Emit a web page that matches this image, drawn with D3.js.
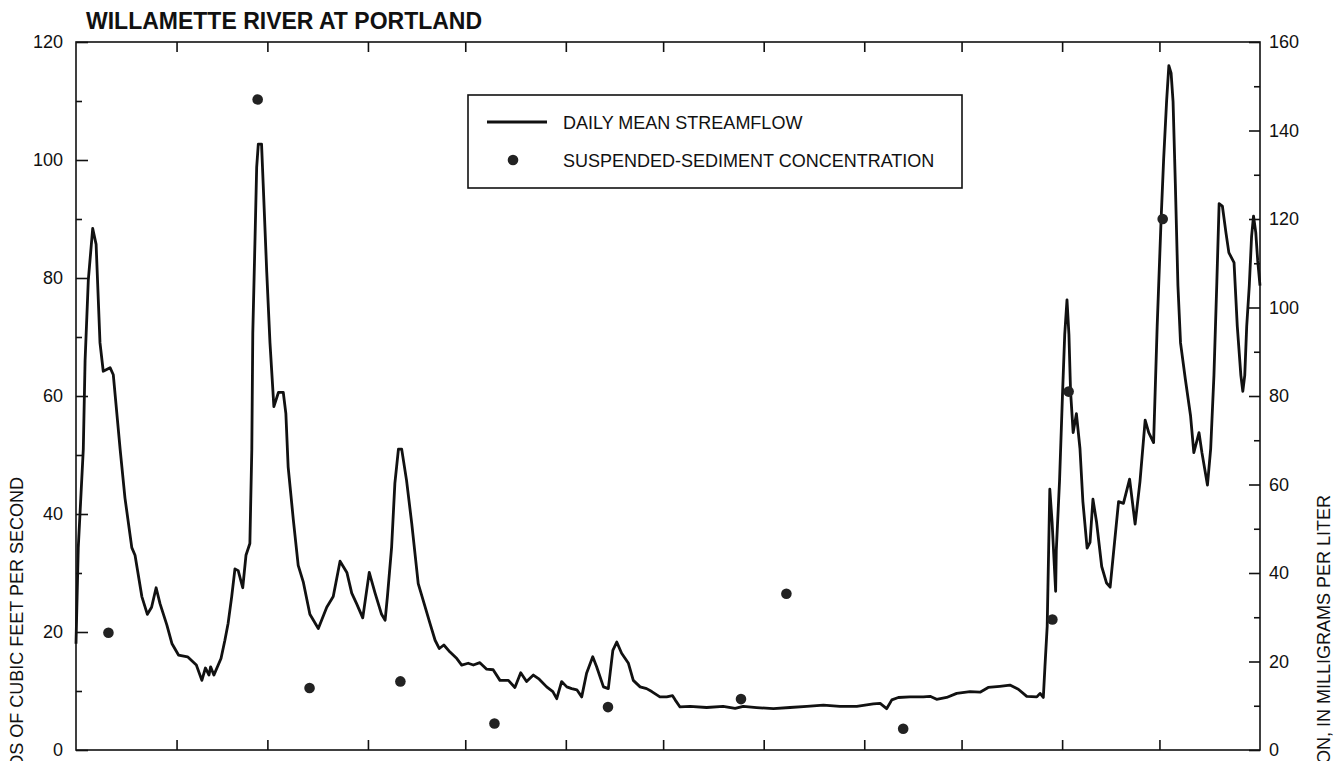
<!DOCTYPE html>
<html>
<head>
<meta charset="utf-8">
<script src="https://cdn.jsdelivr.net/npm/d3@7"></script>
<style>
  html, body { margin: 0; padding: 0; background: #fff; }
  svg { display: block; }
  text { font-family: "Liberation Sans", Arial, Helvetica, sans-serif; fill: #111; }
</style>
</head>
<body>
<svg id="chart" width="1342" height="761"></svg>
<script>
// ---------------- DATA ----------------
const chartTitle = "WILLAMETTE RIVER AT PORTLAND";
const leftAxisTitle = "THOUSANDS OF CUBIC FEET PER SECOND";
const rightAxisTitle = "SUSPENDED-SEDIMENT CONCENTRATION, IN MILLIGRAMS PER LITER";
const legendLabels = ["DAILY MEAN STREAMFLOW", "SUSPENDED-SEDIMENT CONCENTRATION"];

// day of year (0 = Jan 1) and daily mean streamflow, thousands of ft3/s
const flowDay = [0,0.7,2.25,2.8,3.8,5.15,6.2,7.4,8.4,10.5,11.5,13.6,15.1,17.2,18.2,20.3,22.0,23.3,24.7,25.9,28.0,29.6,31.6,34.4,37.1,38.8,39.9,41.0,41.5,42.5,44.7,45.9,46.9,48.0,49.0,50.0,51.4,52.4,53.6,54.2,54.5,55.2,55.7,56.2,57.2,57.7,58.8,59.8,61.0,62.4,63.9,64.7,65.4,67.0,68.5,70.1,72.1,74.7,77.3,79.3,81.4,83.5,85.0,86.5,88.4,90.4,92.2,94.2,95.3,96.0,97.3,98.3,99.4,100.4,101.9,103.5,105.5,107.6,109.1,110.7,112.0,113.4,115.3,117.4,118.9,120.9,122.5,124.5,126.6,128.6,130.7,133.3,135.3,137.1,138.9,141.0,142.8,145.1,147.0,148.2,149.7,151.3,152.8,154.4,155.9,157.4,159.3,160.5,162.6,164.1,165.5,166.7,168.2,170.3,171.8,173.9,175.9,177.5,180.0,182.1,183.9,184.7,186.2,189.3,194.4,199.5,203.2,205.7,209.8,215.0,220.1,225.3,230.4,235.5,240.7,245.8,247.9,249.9,251.5,253.5,257.1,261.2,263.3,265.3,268.4,271.5,275.6,278.7,281.2,284.8,287.9,290.5,293.1,296.2,297.2,298.2,298.7,299.4,300.2,300.9,302.0,302.2,303.2,304.1,304.8,305.5,306.1,306.6,307.4,308.4,309.5,310.4,311.7,312.6,313.5,314.6,316.2,317.7,318.8,319.8,321.4,322.9,324.8,326.5,328.0,329.6,330.7,332.2,333.3,334.5,335.3,336.2,336.9,337.6,338.2,338.9,339.7,340.5,342.0,343.6,344.6,346.2,347.1,348.8,349.8,350.8,351.7,352.4,353.4,354.5,355.4,357.0,358.0,359.1,359.7,360.3,360.9,361.7,362.4,363.0,363.7,364.3,365];
const flowValue = [18,34.3,51,66,79.7,88.4,85.7,69,64.2,64.8,63.6,51,42.7,34.3,33,26,23,24.2,27.5,24.8,21.2,18,16.1,15.8,14.4,11.8,13.9,12.7,14.1,12.7,15.5,18.6,21.5,26,30.7,30.4,27.5,33,35,51,70.7,86.9,98.8,102.7,102.7,96,81,69,58.2,60.6,60.6,57,48,39,31.3,28.4,23,20.6,24.2,26,32,30.1,26.6,24.8,22.4,30.1,26.6,23,22,26,34.4,45.2,51,51,45.7,38.4,28.2,24.3,21.5,18.6,17.2,17.8,16.6,15.5,14.4,14.7,14.4,14.8,13.7,13.6,11.8,11.8,10.6,13.1,11.6,12.7,12,10.7,9.9,8.7,11.6,10.7,10.4,10.2,9,13,15.8,14.1,10.7,10.4,16.9,18.3,16.4,14.7,11.8,10.7,10.4,9.9,9,9,9.2,8.5,7.3,7.4,7.2,7.4,7.05,7.4,7.2,7.0,7.2,7.4,7.6,7.4,7.4,7.8,7.9,7.0,8.5,8.9,9.0,9.0,9.1,8.6,8.9,9.6,9.9,9.8,10.6,10.8,11,10.3,9.1,9.0,9.6,8.9,14.1,21,44.2,38.7,26.9,33.8,45.6,60,70.4,76.3,70.4,60.8,53.8,57,51.1,42.1,34.2,35.2,42.5,38.7,31.1,28.3,27.6,33.2,42.1,41.8,45.9,38.3,45.5,55.9,53.8,52.1,71.8,89.8,100.2,109.9,116,114.7,109.9,96,78.7,69,62.8,56.6,50.4,53.8,50.4,44.9,51.1,63.5,79.4,92.6,92.2,87.7,84.3,82.6,71.8,63.5,60.8,63.5,71.8,78.7,87,90.5,87.7,82.9,78.7];

// suspended-sediment samples: day of year and concentration, mg/L
const sedimentDay = [10, 56, 72, 100, 129, 164, 205, 219, 255, 301, 306, 335];
const sedimentConc = [26.5, 147, 14, 15.5, 6, 9.7, 11.5, 35.3, 4.8, 29.5, 81, 120];

// axis ticks
const leftTicks = [0, 20, 40, 60, 80, 100, 120];
const leftMinorTicks = [10, 30, 50, 70, 90, 110];
const rightTicks = [0, 20, 40, 60, 80, 100, 120, 140, 160];
const rightMinorTicks = [10, 30, 50, 70, 90, 110, 130, 150];

// ---------------- CHART ----------------
const svg = d3.select("#chart");
const W = 1342, H = 761;
const m = { left: 76, right: 1260, top: 42, bottom: 750 };

const yearStart = new Date(2001, 0, 1), yearEnd = new Date(2002, 0, 1);
const monthStartDays = d3.timeMonth.range(yearStart, yearEnd)
  .map(d => d3.timeDay.count(yearStart, d)).slice(1);

const x = d3.scaleLinear().domain([0, 365]).range([m.left, m.right]);
const yL = d3.scaleLinear().domain([0, 120]).range([m.bottom, m.top]);
const yR = d3.scaleLinear().domain([0, 160]).range([m.bottom, m.top]);

svg.append("rect").attr("width", W).attr("height", H).attr("fill", "#fff");

// frame
svg.append("rect")
  .attr("x", m.left).attr("y", m.top)
  .attr("width", m.right - m.left).attr("height", m.bottom - m.top)
  .attr("fill", "none").attr("stroke", "#111").attr("stroke-width", 1.6);

function styleAxis(g) {
  g.select(".domain").remove();
  g.selectAll(".tick line").attr("stroke", "#111").attr("stroke-width", 1.6);
  g.selectAll(".tick text").style("font-size", "18px").attr("fill", "#111");
}

// left axis (major + minor), inward ticks
svg.append("g").attr("transform", `translate(${m.left},0)`)
  .call(d3.axisLeft(yL).tickValues(leftTicks).tickSize(-12).tickPadding(13).tickFormat(d3.format("d")))
  .call(styleAxis);
svg.append("g").attr("transform", `translate(${m.left},0)`)
  .call(d3.axisLeft(yL).tickValues(leftMinorTicks).tickSize(-6).tickFormat(""))
  .call(styleAxis);

// right axis
svg.append("g").attr("transform", `translate(${m.right},0)`)
  .call(d3.axisRight(yR).tickValues(rightTicks).tickSize(-11).tickPadding(9).tickFormat(d3.format("d")))
  .call(styleAxis);
svg.append("g").attr("transform", `translate(${m.right},0)`)
  .call(d3.axisRight(yR).tickValues(rightMinorTicks).tickSize(-6).tickFormat(""))
  .call(styleAxis);

// bottom & top month ticks
svg.append("g").attr("transform", `translate(0,${m.bottom})`)
  .call(d3.axisBottom(x).tickValues(monthStartDays).tickSize(-10).tickFormat(""))
  .call(styleAxis);
svg.append("g").attr("transform", `translate(0,${m.top})`)
  .call(d3.axisTop(x).tickValues(monthStartDays).tickSize(-10).tickFormat(""))
  .call(styleAxis);

// streamflow line
const flow = flowDay.map((d, i) => [d, flowValue[i]]);
svg.append("path")
  .datum(flow)
  .attr("fill", "none")
  .attr("stroke", "#111")
  .attr("stroke-width", 2.8)
  .attr("stroke-linejoin", "round")
  .attr("d", d3.line().x(d => x(d[0])).y(d => yL(d[1])));

// sediment points
const sed = sedimentDay.map((d, i) => [d, sedimentConc[i]]);
svg.append("g").selectAll("circle")
  .data(sed).join("circle")
  .attr("cx", d => x(d[0])).attr("cy", d => yR(d[1]))
  .attr("r", 5.3).attr("fill", "#222");

// title
svg.append("text")
  .attr("x", 86).attr("y", 29)
  .style("font-size", "23px").style("font-weight", "bold")
  .text(chartTitle);

// axis titles (partly cut by the lower edge, as in the reference)
svg.append("text")
  .attr("transform", "translate(23,477) rotate(-90)")
  .attr("text-anchor", "end")
  .style("font-size", "18px")
  .text(leftAxisTitle);
svg.append("text")
  .attr("transform", "translate(1330,495) rotate(-90)")
  .attr("text-anchor", "end")
  .style("font-size", "18px")
  .text(rightAxisTitle);

// legend
const lg = svg.append("g");
lg.append("rect").attr("x", 468).attr("y", 95).attr("width", 494).attr("height", 93)
  .attr("fill", "#fff").attr("stroke", "#111").attr("stroke-width", 1.6);
lg.append("line").attr("x1", 487).attr("x2", 547).attr("y1", 122).attr("y2", 122)
  .attr("stroke", "#111").attr("stroke-width", 2.8);
lg.append("circle").attr("cx", 513).attr("cy", 160).attr("r", 5.3).attr("fill", "#222");
lg.append("text").attr("x", 563).attr("y", 128.5).style("font-size", "18px").text(legendLabels[0]);
lg.append("text").attr("x", 563).attr("y", 166.5).style("font-size", "18px").text(legendLabels[1]);
</script>
</body>
</html>
